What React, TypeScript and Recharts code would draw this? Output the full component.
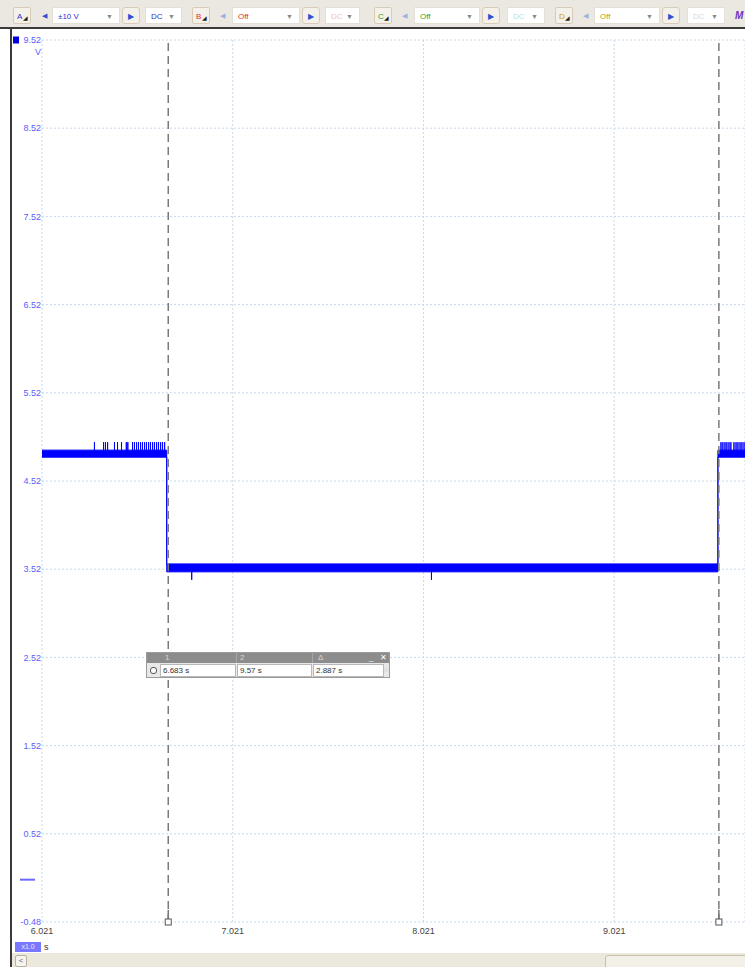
import React from "react";
import {
  Area,
  CartesianGrid,
  ComposedChart,
  Line,
  ReferenceDot,
  ReferenceLine,
  XAxis,
  YAxis,
} from "recharts";

// channel A trace: step times (s) and the noise band around each level (V)
const STEP_TIMES = [6.021, 6.675, 9.565, 9.707];
const BAND_LOW = [4.79, 3.49, 4.79, 4.79];
const BAND_HIGH = [4.87, 3.58, 4.87, 4.87];

// glitches on top of the high level, and below the low level
const HIGH_SPIKES_LEFT = [
  6.296, 6.344, 6.354, 6.365, 6.401, 6.417, 6.438, 6.463, 6.471, 6.496,
  6.506, 6.517, 6.527, 6.538, 6.548, 6.559, 6.569, 6.58, 6.59, 6.601, 6.611,
  6.622, 6.632, 6.643, 6.653, 6.664,
];
const HIGH_SPIKES_RIGHT = [
  9.581, 9.591, 9.602, 9.612, 9.623, 9.633, 9.649, 9.66, 9.67, 9.681, 9.691,
  9.702,
];
const LOW_SPIKES = [6.806, 8.063];
const HIGH_BASE = 4.83;
const HIGH_PEAK = 4.96;
const LOW_BASE = 3.53;
const LOW_PEAK = 3.4;

const X_TICKS = [6.021, 7.021, 8.021, 9.021];
const Y_TICKS = [9.52, 8.52, 7.52, 6.52, 5.52, 4.52, 3.52, 2.52, 1.52, 0.52, -0.48];
const X_DOMAIN = [6.021, 9.707];
const Y_DOMAIN = [-0.48, 9.52];

// ruler cursors (s)
const CURSOR_1 = 6.683;
const CURSOR_2 = 9.57;

const signal = STEP_TIMES.map((t, i) => ({ t, band: [BAND_LOW[i], BAND_HIGH[i]] }));

const spikes = (times: number[], base: number, peak: number) =>
  times.flatMap((t) => [
    { t, v: base },
    { t, v: peak },
    { t, v: base },
  ]);

const TRACE = "#0000ff";
const FONT = '"Liberation Sans", Arial, sans-serif';

const CursorHandle = (props: any) => {
  const { cx, cy } = props;
  return (
    <g>
      <line x1={cx} x2={cx} y1={cy - 12} y2={cy - 3} stroke="#777" strokeWidth={1.5} />
      <rect x={cx - 3} y={cy - 3} width={6} height={6} fill="#fff" stroke="#555" strokeWidth={1} />
    </g>
  );
};

const ChannelMarker = (props: any) => {
  const { cx, cy } = props;
  return <rect x={cx - 29} y={cy - 3.5} width={6} height={7} fill="#0000e0" />;
};

const ZeroMarker = (props: any) => {
  const { cx, cy } = props;
  return <line x1={cx - 22} x2={cx - 7} y1={cy} y2={cy} stroke="#6a6aff" strokeWidth={2} />;
};

const box = (left: number, width: number, extra: React.CSSProperties = {}) => ({
  position: "absolute" as const,
  left,
  top: 7,
  width,
  height: 17,
  boxSizing: "border-box" as const,
  fontSize: 8,
  lineHeight: "17px",
  ...extra,
});

const Button = ({ x, w, children, color }: any) => (
  <div
    style={box(x, w, {
      border: "1px solid #d8ccb8",
      borderRadius: 3,
      background: "#f4f1ea",
      textAlign: "center",
      color,
    })}
  >
    {children}
  </div>
);

const Dropdown = ({ x, w, text, color }: any) => (
  <div style={box(x, w, { background: "#fff", border: "1px solid #e4e0d8", color, paddingLeft: 5 })}>
    {text}
    <span style={{ position: "absolute", right: 6, top: 0, color: "#888", fontSize: 7 }}>▼</span>
  </div>
);

const ChannelTag = ({ x, label, color }: any) => (
  <div style={box(x, 18, { border: "1px solid #d8ccb8", borderRadius: 2, background: "#f4f1ea", color, paddingLeft: 3 })}>
    {label}
    <span style={{ position: "absolute", right: 2, top: 2, color: "#222", fontSize: 6 }}>◢</span>
  </div>
);

const Arrow = ({ x, color, dir }: any) => (
  <div style={box(x, 12, { color, textAlign: "center", fontSize: 7 })}>{dir === "l" ? "◀" : "▶"}</div>
);

function Toolbar() {
  return (
    <div
      style={{
        position: "absolute",
        left: 0,
        top: 0,
        width: 745,
        height: 27,
        background: "#ebe8e1",
        borderBottom: "2px solid #3a3a3a",
        fontFamily: FONT,
      }}
    >
      <ChannelTag x={13} label="A" color="#3030d0" />
      <Arrow x={38} color="#3050d0" dir="l" />
      <Dropdown x={52} w={68} text="±10 V" color="#3030d0" />
      <Button x={122} w={18} color="#3050d0">▶</Button>
      <Dropdown x={145} w={37} text="DC" color="#3030d0" />
      <ChannelTag x={192} label="B" color="#e03030" />
      <Arrow x={216} color="#9ab0e0" dir="l" />
      <Dropdown x={232} w={68} text="Off" color="#e03030" />
      <Button x={302} w={18} color="#3050d0">▶</Button>
      <Dropdown x={325} w={35} text="DC" color="#f0c0c0" />
      <ChannelTag x={374} label="C" color="#30a030" />
      <Arrow x={398} color="#9ab0e0" dir="l" />
      <Dropdown x={414} w={66} text="Off" color="#30a030" />
      <Button x={482} w={18} color="#3050d0">▶</Button>
      <Dropdown x={507} w={38} text="DC" color="#b8e0e0" />
      <ChannelTag x={555} label="D" color="#c8a000" />
      <Arrow x={579} color="#9ab0e0" dir="l" />
      <Dropdown x={594} w={66} text="Off" color="#c8a000" />
      <Button x={662} w={18} color="#3050d0">▶</Button>
      <Dropdown x={687} w={38} text="DC" color="#d8d8d8" />
      <div style={box(735, 12, { color: "#7030c0", fontStyle: "italic", fontWeight: "bold", fontSize: 10 })}>M</div>
    </div>
  );
}

function RulerBox() {
  const fmt = (v: number) => `${+v.toFixed(3)} s`;
  const cell = (left: number, width: number, text: string) => (
    <div
      style={{
        position: "absolute",
        left,
        top: 1,
        width,
        height: 13,
        background: "#fff",
        border: "1px solid #b8b8b8",
        boxSizing: "border-box",
        paddingLeft: 2,
        lineHeight: "12px",
      }}
    >
      {text}
    </div>
  );
  return (
    <div
      style={{
        position: "absolute",
        left: 146,
        top: 652,
        width: 244,
        height: 26,
        fontFamily: FONT,
        fontSize: 8,
        color: "#333",
        border: "1px solid #9a9a9a",
        boxSizing: "border-box",
        background: "#e8e8e8",
      }}
    >
      <div style={{ position: "absolute", left: 0, top: 0, width: 242, height: 10, background: "#8c8c8c", color: "#d8d8d8", lineHeight: "10px" }}>
        <span style={{ position: "absolute", left: 18 }}>1</span>
        <span style={{ position: "absolute", left: 93 }}>2</span>
        <span style={{ position: "absolute", left: 171 }}>Δ</span>
        <span style={{ position: "absolute", left: 222, color: "#fff" }}>_</span>
        <span style={{ position: "absolute", left: 233, color: "#fff" }}>✕</span>
        <div style={{ position: "absolute", left: 89, top: 0, width: 1, height: 10, background: "#a8a8a8" }} />
        <div style={{ position: "absolute", left: 165, top: 0, width: 1, height: 10, background: "#a8a8a8" }} />
      </div>
      <div style={{ position: "absolute", left: 0, top: 10, width: 242, height: 14 }}>
        <div style={{ position: "absolute", left: 3, top: 4, width: 5, height: 5, borderRadius: 3, border: "1px solid #555", background: "#fff" }} />
        {cell(13, 76, fmt(CURSOR_1))}
        {cell(90, 75, fmt(CURSOR_2))}
        {cell(166, 71, fmt(CURSOR_2 - CURSOR_1))}
        <div style={{ position: "absolute", left: 237, top: 3, fontSize: 7, color: "#888" }}>◌</div>
      </div>
    </div>
  );
}

export default function App() {
  return (
    <div
      style={{
        position: "absolute",
        left: 0,
        top: 0,
        width: 745,
        height: 967,
        overflow: "hidden",
        background: "#fff",
        fontFamily: FONT,
      }}
    >
      <div style={{ position: "absolute", left: 0, top: 0 }}>
        <ComposedChart width={745} height={952} margin={{ top: 40, right: 0, bottom: 0, left: 0 }}>
          <CartesianGrid stroke="#c8d8ea" strokeDasharray="2 2" />
          <XAxis
            type="number"
            dataKey="t"
            domain={X_DOMAIN}
            ticks={X_TICKS}
            interval={0}
            allowDataOverflow
            axisLine={false}
            tickLine={false}
            tickSize={0}
            tickMargin={6}
            height={30}
            tick={{ fill: "#444", fontSize: 9, fontFamily: FONT }}
            tickFormatter={(v: number) => v.toFixed(3)}
          />
          <YAxis
            type="number"
            domain={Y_DOMAIN}
            ticks={Y_TICKS}
            interval={0}
            allowDataOverflow
            axisLine={false}
            tickLine={false}
            tickSize={0}
            tickMargin={1}
            width={42}
            tick={{ fill: "#5c5cff", fontSize: 9, fontFamily: FONT }}
            tickFormatter={(v: number) => v.toFixed(2)}
          />
          <ReferenceLine x={CURSOR_1} stroke="#7a7a7a" strokeWidth={1.5} strokeDasharray="8 5" />
          <ReferenceLine x={CURSOR_2} stroke="#7a7a7a" strokeWidth={1.5} strokeDasharray="8 5" />
          <Area
            data={signal}
            dataKey="band"
            type="stepAfter"
            stroke={TRACE}
            strokeWidth={1}
            fill={TRACE}
            fillOpacity={1}
            isAnimationActive={false}
          />
          <Line data={spikes(HIGH_SPIKES_LEFT, HIGH_BASE, HIGH_PEAK)} dataKey="v" stroke={TRACE} strokeWidth={1} dot={false} isAnimationActive={false} />
          <Line data={spikes(HIGH_SPIKES_RIGHT, HIGH_BASE, HIGH_PEAK)} dataKey="v" stroke={TRACE} strokeWidth={1} dot={false} isAnimationActive={false} />
          <Line data={spikes(LOW_SPIKES, LOW_BASE, LOW_PEAK)} dataKey="v" stroke={TRACE} strokeWidth={1} dot={false} isAnimationActive={false} />
          <ReferenceDot x={CURSOR_1} y={Y_DOMAIN[0]} ifOverflow="visible" shape={CursorHandle} />
          <ReferenceDot x={CURSOR_2} y={Y_DOMAIN[0]} ifOverflow="visible" shape={CursorHandle} />
          <ReferenceDot x={X_DOMAIN[0]} y={Y_DOMAIN[1]} ifOverflow="visible" shape={ChannelMarker} />
          <ReferenceDot x={X_DOMAIN[0]} y={0} ifOverflow="visible" shape={ZeroMarker} />
        </ComposedChart>
      </div>

      {/* unit label under the top tick */}
      <div style={{ position: "absolute", left: 35, top: 47, fontSize: 9, color: "#5c5cff" }}>V</div>

      {/* left edge of the scope view */}
      <div style={{ position: "absolute", left: 10, top: 27, width: 2, height: 940, background: "#3a3a3a" }} />

      <Toolbar />
      <RulerBox />

      {/* time multiplier and unit */}
      <div
        style={{
          position: "absolute",
          left: 15,
          top: 942,
          width: 26,
          height: 10,
          background: "#7878ff",
          color: "#e8e8ff",
          fontSize: 7,
          lineHeight: "10px",
          textAlign: "center",
        }}
      >
        x1.0
      </div>
      <div style={{ position: "absolute", left: 44, top: 942, fontSize: 9, color: "#333" }}>s</div>

      {/* horizontal scroll bar */}
      <div style={{ position: "absolute", left: 12, top: 953, width: 733, height: 14, background: "#ece8dc" }}>
        <div
          style={{
            position: "absolute",
            left: 3,
            top: 2,
            width: 10,
            height: 10,
            border: "1px solid #b8b0a0",
            borderRadius: 2,
            background: "#f6f4ee",
            fontSize: 8,
            lineHeight: "10px",
            textAlign: "center",
            color: "#666",
          }}
        >
          &lt;
        </div>
        <div
          style={{
            position: "absolute",
            left: 593,
            top: 2,
            width: 150,
            height: 13,
            border: "1px solid #c8bfae",
            borderRadius: 3,
            background: "#f3f0e8",
          }}
        />
      </div>
    </div>
  );
}
